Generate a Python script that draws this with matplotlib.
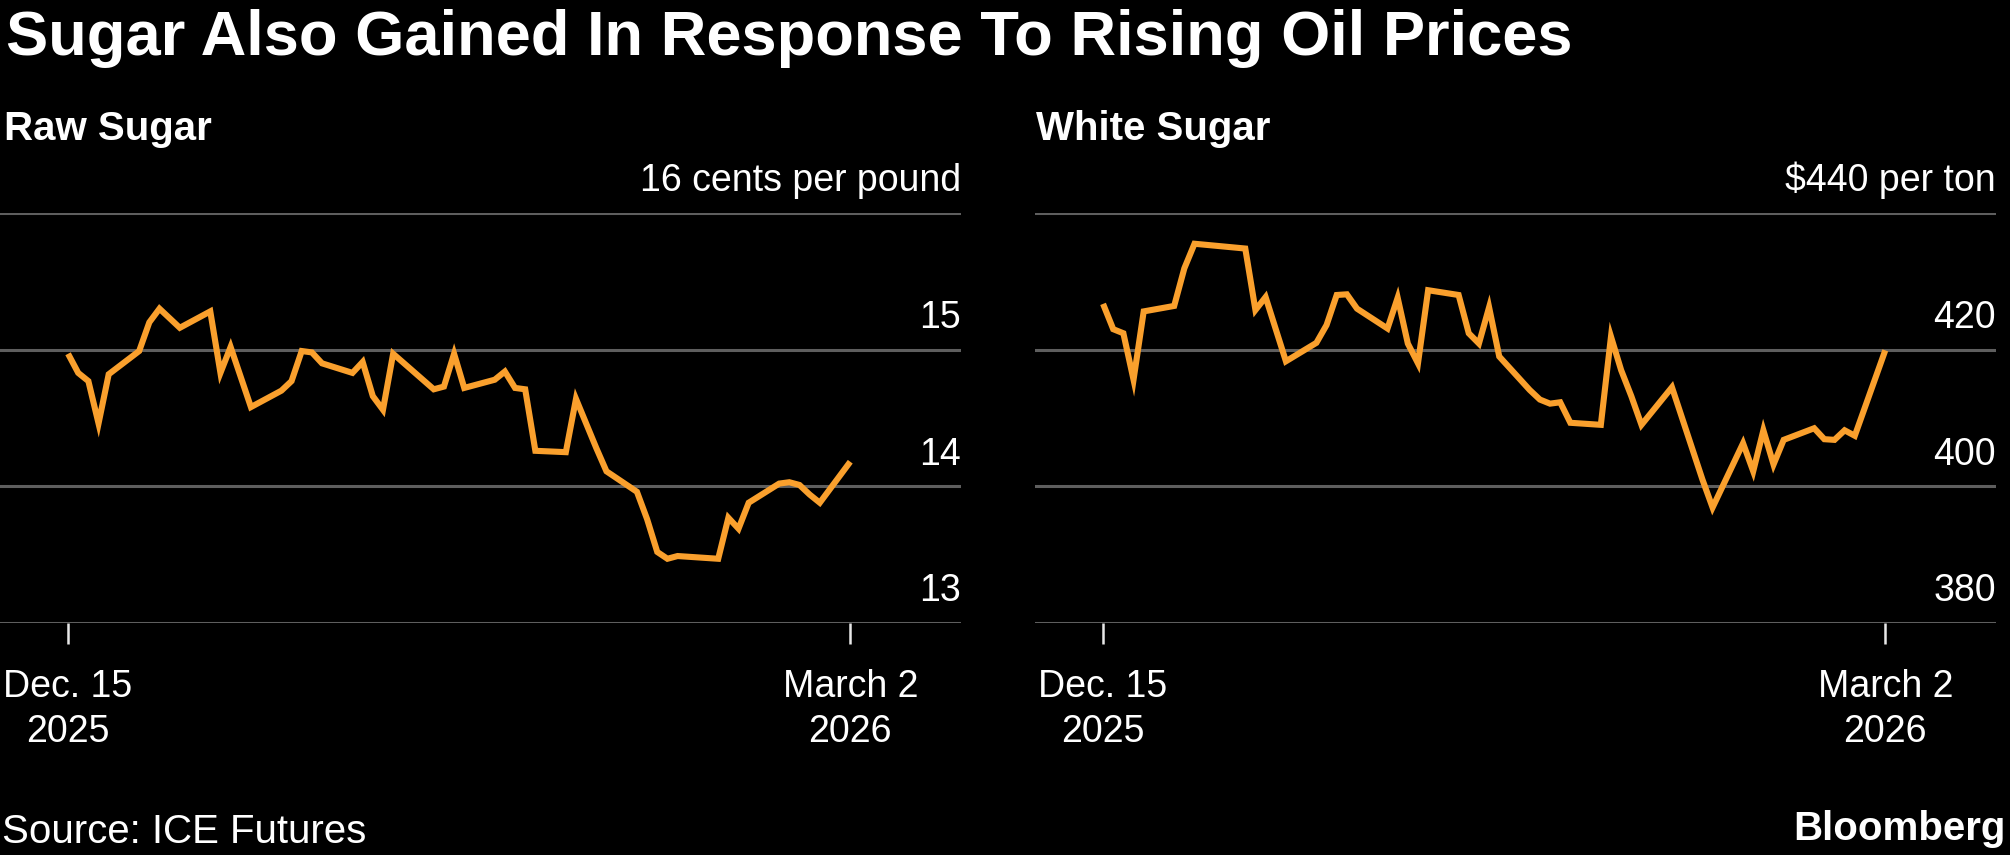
import pandas as pd
import matplotlib
matplotlib.use("Agg")
import matplotlib.pyplot as plt

# raw sugar, cents per pound (ICE US, closed Jan 19 / Feb 16)
raw_dates = ['2025-12-15', '2025-12-16', '2025-12-17', '2025-12-18', '2025-12-19',
             '2025-12-22', '2025-12-23', '2025-12-24', '2025-12-26', '2025-12-29',
             '2025-12-30', '2025-12-31', '2026-01-02', '2026-01-05', '2026-01-06',
             '2026-01-07', '2026-01-08', '2026-01-09', '2026-01-12', '2026-01-13',
             '2026-01-14', '2026-01-15', '2026-01-16', '2026-01-20', '2026-01-21',
             '2026-01-22', '2026-01-23', '2026-01-26', '2026-01-27', '2026-01-28',
             '2026-01-29', '2026-01-30', '2026-02-02', '2026-02-03', '2026-02-04',
             '2026-02-05', '2026-02-06', '2026-02-09', '2026-02-10', '2026-02-11',
             '2026-02-12', '2026-02-13', '2026-02-17', '2026-02-18', '2026-02-19',
             '2026-02-20', '2026-02-23', '2026-02-24', '2026-02-25', '2026-02-26',
             '2026-02-27', '2026-03-02']
raw_values = [14.97, 14.83, 14.77, 14.46, 14.82,
              14.99, 15.20, 15.30, 15.16, 15.28,
              14.83, 15.02, 14.58, 14.70, 14.77,
              14.99, 14.98, 14.90, 14.83, 14.91,
              14.66, 14.56, 14.97, 14.71, 14.73,
              14.97, 14.72, 14.78, 14.84, 14.72,
              14.71, 14.26, 14.25, 14.64, 14.46,
              14.28, 14.11, 13.96, 13.76, 13.52,
              13.47, 13.49, 13.47, 13.77, 13.69,
              13.88, 14.02, 14.03, 14.01, 13.94,
              13.88, 14.18]

# white sugar, $ per ton (ICE Europe)
white_dates = ['2025-12-15', '2025-12-16', '2025-12-17', '2025-12-18', '2025-12-19',
               '2025-12-22', '2025-12-23', '2025-12-24', '2025-12-29', '2025-12-30',
               '2025-12-31', '2026-01-02', '2026-01-05', '2026-01-06', '2026-01-07',
               '2026-01-08', '2026-01-09', '2026-01-12', '2026-01-13', '2026-01-14',
               '2026-01-15', '2026-01-16', '2026-01-19', '2026-01-20', '2026-01-21',
               '2026-01-22', '2026-01-23', '2026-01-26', '2026-01-27', '2026-01-28',
               '2026-01-29', '2026-01-30', '2026-02-02', '2026-02-03', '2026-02-04',
               '2026-02-05', '2026-02-06', '2026-02-09', '2026-02-10', '2026-02-11',
               '2026-02-12', '2026-02-13', '2026-02-16', '2026-02-17', '2026-02-18',
               '2026-02-19', '2026-02-20', '2026-02-23', '2026-02-24', '2026-02-25',
               '2026-02-26', '2026-02-27', '2026-03-02']
white_values = [426.7, 423.0, 422.4, 415.6, 425.6,
                426.4, 431.9, 435.5, 434.8, 425.8,
                427.7, 418.3, 421.0, 423.6, 428.0,
                428.1, 426.0, 423.1, 427.6, 420.9,
                418.0, 428.7, 428.0, 422.4, 420.9,
                426.2, 419.0, 414.1, 412.7, 412.1,
                412.3, 409.3, 409.0, 421.9, 417.0,
                413.2, 409.0, 414.5, 410.0, 405.5,
                401.0, 396.9, 406.3, 402.2, 408.2,
                403.2, 406.8, 408.5, 406.9, 406.8,
                408.2, 407.4, 419.9]

raw_ticks = [13, 14, 15, 16]
raw_tick_labels = ['13', '14', '15', '16 cents per pound']
white_ticks = [380, 400, 420, 440]
white_tick_labels = ['380', '400', '420', '$440 per ton']

x_tick_dates = ['2025-12-15', '2026-03-02']
x_tick_labels = ['Dec. 15\n2025', 'March 2\n2026']

title = 'Sugar Also Gained In Response To Rising Oil Prices'
source = 'Source: ICE Futures'

ORANGE = '#faa02d'
GRID = '#5e5e5e'

plt.rcParams['font.family'] = ['Liberation Sans', 'DejaVu Sans']

W, H = 2010, 855
fig = plt.figure(figsize=(W / 100, H / 100), dpi=100, facecolor='black')


def px(x, y):
    return x / W, 1 - y / H


def draw_panel(rect, name, dates, values, ticks, tick_labels, name_x):
    ax = fig.add_axes(rect, facecolor='black')
    d = pd.to_datetime(dates)
    ax.plot(d, values, color=ORANGE, lw=4.4, solid_joinstyle='miter',
            solid_capstyle='butt', zorder=3, clip_on=False)

    ax.set_ylim(ticks[0], ticks[-1])
    ax.set_yticks(ticks)
    ax.tick_params(axis='y', length=0, labelleft=False)
    ax.grid(axis='y', color=GRID, lw=2.2)
    ax.set_axisbelow(True)

    xt = pd.to_datetime(x_tick_dates)
    ax.set_xlim(xt[0] - pd.Timedelta(days=6.7), xt[-1] + pd.Timedelta(days=10.9))
    ax.set_xticks(xt)
    ax.set_xticklabels(x_tick_labels, linespacing=1.32)
    ax.tick_params(axis='x', length=15, width=1.8, color='#e8e8e8', pad=18,
                   labelsize=27, labelcolor='white')

    for s in ax.spines.values():
        s.set_visible(False)

    for t, lab in zip(ticks, tick_labels):
        ax.annotate(lab, xy=(1, t), xycoords=('axes fraction', 'data'),
                    xytext=(0, 15.5), textcoords='offset points',
                    ha='right', va='baseline', color='white', fontsize=27)

    fx, fy = px(name_x, 140)
    fig.text(fx, fy, name, color='white', fontsize=29, fontweight='bold',
             ha='left', va='baseline')
    return ax


bottom = (H - 623) / H
height = (623 - 213) / H
draw_panel([0 / W, bottom, 961 / W, height], 'Raw Sugar',
           raw_dates, raw_values, raw_ticks, raw_tick_labels, 4)
draw_panel([1035 / W, bottom, 961 / W, height], 'White Sugar',
           white_dates, white_values, white_ticks, white_tick_labels, 1036)

tx, ty = px(6, 55)
fig.text(tx, ty, title, color='white', fontsize=45.5, fontweight='bold',
         ha='left', va='baseline')

sx, sy = px(2, 843)
fig.text(sx, sy, source, color='white', fontsize=29, ha='left', va='baseline')
bx, by = px(2006, 840)
fig.text(bx, by, 'Bloomberg', color='white', fontsize=29, fontweight='bold',
         ha='right', va='baseline')

fig.savefig('out.png', dpi=100, facecolor='black')
